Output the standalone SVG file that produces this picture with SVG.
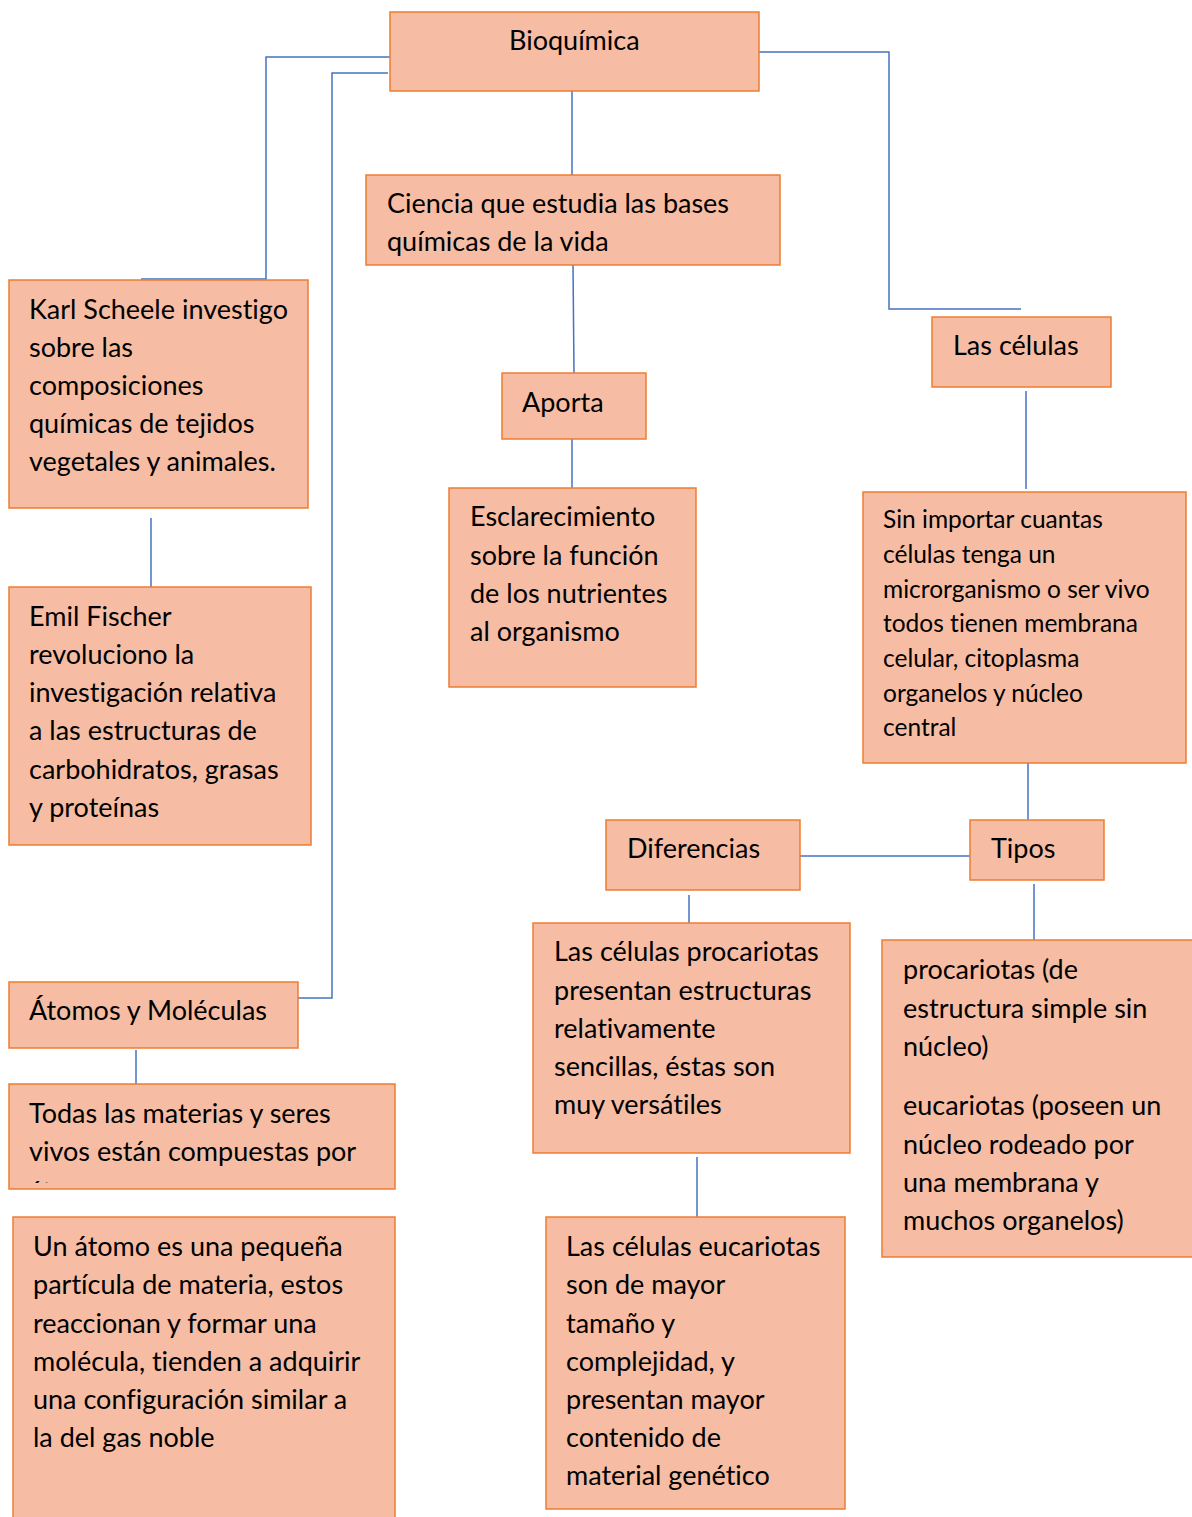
<svg xmlns="http://www.w3.org/2000/svg" width="1192" height="1517" viewBox="0 0 1192 1517">
<style>
.box{fill:#F6BDA4;stroke:#ED7D31;stroke-width:1.5}
.t{font-family:Lato,"Open Sans","Liberation Sans",sans-serif;font-size:27px;fill:#000;font-variant-ligatures:none}
.s{font-size:24.5px}
.c{stroke:#4472C4;stroke-width:1.5;fill:none}
</style>
<defs>
<clipPath id="clipTodas"><rect x="9" y="1084" width="386" height="99"/></clipPath>
</defs>
<rect width="1192" height="1517" fill="#fff"/>
<g id="connectors">
<polyline class="c" points="390,57 266,57 266,279 141,279"/>
<polyline class="c" points="388,73 332,73 332,998 298,998"/>
<line class="c" x1="572" y1="91" x2="572" y2="175"/>
<line class="c" x1="573" y1="265" x2="574" y2="373"/>
<line class="c" x1="572" y1="439" x2="572" y2="488"/>
<polyline class="c" points="759,52 889,52 889,309 1021,309"/>
<line class="c" x1="1026" y1="391" x2="1026" y2="489"/>
<line class="c" x1="1028" y1="763" x2="1028" y2="820"/>
<line class="c" x1="800" y1="856" x2="970" y2="856"/>
<line class="c" x1="1034" y1="884" x2="1034" y2="940"/>
<line class="c" x1="689" y1="895" x2="689" y2="923"/>
<line class="c" x1="697" y1="1157" x2="697" y2="1217"/>
<line class="c" x1="151" y1="518" x2="151" y2="587"/>
<line class="c" x1="136" y1="1050" x2="136" y2="1084"/>
</g>
<g id="bioquimica">
<rect class="box" x="390" y="12" width="369" height="79"/>
<text class="t" x="509" y="50">Bioquímica</text>
</g>
<g id="ciencia">
<rect class="box" x="366" y="175" width="414" height="90"/>
<text class="t" x="387" y="213">Ciencia que estudia las bases</text>
<text class="t" x="387" y="251">químicas de la vida</text>
</g>
<g id="aporta">
<rect class="box" x="502" y="373" width="144" height="66"/>
<text class="t" x="522" y="412">Aporta</text>
</g>
<g id="esclarecimiento">
<rect class="box" x="449" y="488" width="247" height="199"/>
<text class="t" x="470" y="526">Esclarecimiento</text>
<text class="t" x="470" y="565">sobre la función</text>
<text class="t" x="470" y="603">de los nutrientes</text>
<text class="t" x="470" y="641">al organismo</text>
</g>
<g id="karl">
<rect class="box" x="9" y="280" width="299" height="228"/>
<text class="t" x="29" y="319">Karl Scheele investigo</text>
<text class="t" x="29" y="357">sobre las</text>
<text class="t" x="29" y="395">composiciones</text>
<text class="t" x="29" y="433">químicas de tejidos</text>
<text class="t" x="29" y="471">vegetales y animales.</text>
</g>
<g id="emil">
<rect class="box" x="9" y="587" width="302" height="258"/>
<text class="t" x="29" y="626">Emil Fischer</text>
<text class="t" x="29" y="664">revoluciono la</text>
<text class="t" x="29" y="702">investigación relativa</text>
<text class="t" x="29" y="740">a las estructuras de</text>
<text class="t" x="29" y="779">carbohidratos, grasas</text>
<text class="t" x="29" y="817">y proteínas</text>
</g>
<g id="atomos">
<rect class="box" x="9" y="982" width="289" height="66"/>
<text class="t" x="29" y="1020">Átomos y Moléculas</text>
</g>
<g id="todas">
<rect class="box" x="9" y="1084" width="386" height="105"/>
<text class="t" x="29" y="1123">Todas las materias y seres</text>
<text class="t" x="29" y="1161">vivos están compuestas por</text>
<text class="t" x="29" y="1201" clip-path="url(#clipTodas)">átomos</text>
</g>
<g id="unatomo">
<rect class="box" x="13" y="1217" width="382" height="320"/>
<text class="t" x="33" y="1256">Un átomo es una pequeña</text>
<text class="t" x="33" y="1294">partícula de materia, estos</text>
<text class="t" x="33" y="1333">reaccionan y formar una</text>
<text class="t" x="33" y="1371">molécula, tienden a adquirir</text>
<text class="t" x="33" y="1409">una configuración similar a</text>
<text class="t" x="33" y="1447">la del gas noble</text>
</g>
<g id="lascelulas">
<rect class="box" x="932" y="317" width="179" height="70"/>
<text class="t" x="953" y="355">Las células</text>
</g>
<g id="sinimportar">
<rect class="box" x="863" y="492" width="323" height="271"/>
<text class="t s" x="883" y="528">Sin importar cuantas</text>
<text class="t s" x="883" y="563">células tenga un</text>
<text class="t s" x="883" y="598">microrganismo o ser vivo</text>
<text class="t s" x="883" y="632">todos tienen membrana</text>
<text class="t s" x="883" y="667">celular, citoplasma</text>
<text class="t s" x="883" y="702">organelos y núcleo</text>
<text class="t s" x="883" y="736">central</text>
</g>
<g id="tipos">
<rect class="box" x="970" y="820" width="134" height="60"/>
<text class="t" x="991" y="858">Tipos</text>
</g>
<g id="diferencias">
<rect class="box" x="606" y="820" width="194" height="70"/>
<text class="t" x="627" y="858">Diferencias</text>
</g>
<g id="procariotasdif">
<rect class="box" x="533" y="923" width="317" height="230"/>
<text class="t" x="554" y="961">Las células procariotas</text>
<text class="t" x="554" y="1000">presentan estructuras</text>
<text class="t" x="554" y="1038">relativamente</text>
<text class="t" x="554" y="1076">sencillas, éstas son</text>
<text class="t" x="554" y="1114">muy versátiles</text>
</g>
<g id="eucariotasdif">
<rect class="box" x="546" y="1217" width="299" height="292"/>
<text class="t" x="566" y="1256">Las células eucariotas</text>
<text class="t" x="566" y="1294">son de mayor</text>
<text class="t" x="566" y="1333">tamaño y</text>
<text class="t" x="566" y="1371">complejidad, y</text>
<text class="t" x="566" y="1409">presentan mayor</text>
<text class="t" x="566" y="1447">contenido de</text>
<text class="t" x="566" y="1485">material genético</text>
</g>
<g id="tiposlist">
<rect class="box" x="882" y="940" width="320" height="317"/>
<text class="t" x="903" y="979">procariotas (de</text>
<text class="t" x="903" y="1018">estructura simple sin</text>
<text class="t" x="903" y="1056">núcleo)</text>
<text class="t" x="903" y="1115">eucariotas (poseen un</text>
<text class="t" x="903" y="1154">núcleo rodeado por</text>
<text class="t" x="903" y="1192">una membrana y</text>
<text class="t" x="903" y="1230">muchos organelos)</text>
</g>
</svg>
